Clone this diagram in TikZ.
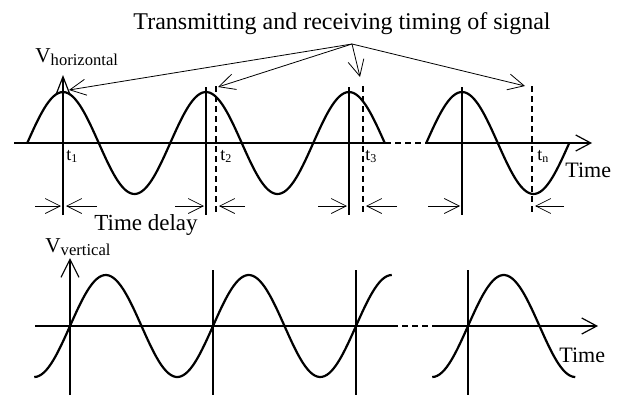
\documentclass[tikz,border=0pt]{standalone}
\usepackage{fontspec}
\setmainfont{Liberation Serif}
\usetikzlibrary{positioning,arrows.meta,calc}
\tikzset{
  wave/.style={line width=1.1pt, line join=round},
  axis/.style={line width=0.6pt, -{Straight Barb[length=7.5pt,width=8pt,line width=0.6pt]}},
  marker/.style={line width=0.6pt},
  dmarker/.style={line width=0.6pt, dash pattern=on 3pt off 2pt},
  delay/.style={line width=0.35pt, -{Straight Barb[length=7.5pt,width=7.5pt,line width=0.35pt]}},
  pointer/.style={line width=0.4pt, -{Straight Barb[length=8pt,width=8pt,line width=0.4pt]}},
  lbl/.style={inner sep=0pt, anchor=base west, font=\fontsize{11}{13}\selectfont}
}
\newcommand{\vsub}[1]{\raisebox{-0.35ex}{\fontsize{8.3}{9}\selectfont #1}}
\newcommand{\tsub}[1]{\raisebox{-0.3ex}{\fontsize{6}{7}\selectfont #1}}

\begin{document}
\begin{tikzpicture}[x=0.5pt,y=-0.5pt]
    \useasboundingbox (0,0) rectangle (624,396);
    \node[lbl, anchor=base, font=\fontsize{12}{14}\selectfont] (title) at (342,29) {Transmitting and receiving timing of signal};
    \coordinate (src) at (352,44);
    \coordinate (p1) at (69,90);
    \coordinate (p2) at (218,87);
    \coordinate (p3) at (360,77);
    \coordinate (p4) at (525,86);
    \foreach \p in {p1,p2,p3,p4}
      \draw[pointer] (src) -- (\p);

    \coordinate (h0) at (14,143);
    \coordinate (hb1) at (385,143);
    \coordinate (hb2) at (427,143);
    \coordinate (h1) at (592,143);
    \draw[marker] (h0) -- (hb1);
    \draw[dmarker] (hb1) -- (hb2);
    \draw[axis] (hb2) -- (h1);
    \draw[axis, -{Straight Barb[length=9pt,width=7pt,line width=0.6pt]}] (63,215) -- (63,75);
    \foreach \s in {206,349,462}
      \draw[marker] (\s,87) -- (\s,215);
    \foreach \d in {216,363,532}
      \draw[dmarker] (\d,86) -- (\d,215);
    \draw[wave] plot[domain=-90:810, samples=150, smooth] ({63+\x/360*143}, {143-51*cos(\x)});
    \draw[wave] plot[domain=-90:270, samples=60, smooth] ({462+\x/360*143}, {143-51*cos(\x)});

    \foreach \a/\b/\c/\e in {35/61/97/66, 175/204/245/219, 318/347/397/366, 428/460/564/535} {
      \draw[delay] (\a,206) -- (\b,206);
      \draw[delay] (\c,206) -- (\e,206);
    }

    \node[lbl, font=\fontsize{10.6}{12}\selectfont] (vh) at (35,62) {V\vsub{horizontal}};
    \node[lbl, font=\fontsize{9}{10}\selectfont] (t1) at (66,160) {t\tsub{1}};
    \node[lbl, font=\fontsize{9}{10}\selectfont] (t2) at (220,160) {t\tsub{2}};
    \node[lbl, font=\fontsize{9}{10}\selectfont] (t3) at (365,160) {t\tsub{3}};
    \node[lbl, font=\fontsize{9}{10}\selectfont] (tn) at (537,160) {t\tsub{n}};
    \node[lbl] (timeh) at (565,177) {Time};
    \node[lbl, font=\fontsize{11.5}{13}\selectfont] (delay) at (94,230) {Time delay};

    \coordinate (v0) at (35,326);
    \coordinate (vb1) at (392,326);
    \coordinate (vb2) at (432,326);
    \coordinate (v1) at (598,326);
    \draw[marker] (v0) -- (vb1);
    \draw[dmarker] (vb1) -- (vb2);
    \draw[axis] (vb2) -- (v1);
    \draw[axis, -{Straight Barb[length=9pt,width=9pt,line width=0.6pt]}] (70,395) -- (70,258);
    \foreach \s in {213,356,468}
      \draw[marker] (\s,270) -- (\s,395);
    \draw[wave] plot[domain=-90:810, samples=150, smooth] ({70+\x/360*143}, {326-51*sin(\x)});
    \draw[wave] plot[domain=-90:270, samples=60, smooth] ({468+\x/360*143}, {326-51*sin(\x)});

    \node[lbl, font=\fontsize{10.6}{12}\selectfont] (vv) at (45,252) {V\vsub{vertical}};
    \node[lbl] (timev) at (559,362) {Time};
  \end{tikzpicture}
\end{document}
